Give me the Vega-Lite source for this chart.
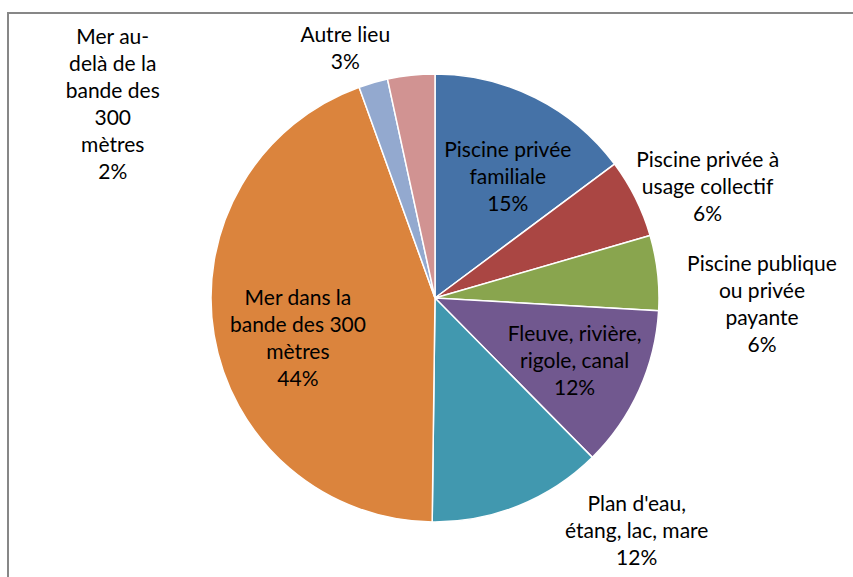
{
  "$schema": "https://vega.github.io/schema/vega-lite/v6.json",
  "width": 854,
  "height": 570,
  "autosize": {"type": "none"},
  "padding": {"left": 8, "top": 13, "right": 0, "bottom": 0},
  "background": "white",
  "view": {"stroke": "#878787", "strokeWidth": 2, "fill": "white"},
  "config": {"text": {"font": "Lato"}},
  "data": {"values": [
    {"idx": 1, "cat": "Piscine privée familiale", "value": 14.8, "label": "Piscine privée\nfamiliale\n15%"},
    {"idx": 2, "cat": "Piscine privée à usage collectif", "value": 5.7, "label": "Piscine privée à\nusage collectif\n6%"},
    {"idx": 3, "cat": "Piscine publique ou privée payante", "value": 5.4, "label": "Piscine publique\nou privée\npayante\n6%"},
    {"idx": 4, "cat": "Fleuve, rivière, rigole, canal", "value": 11.7, "label": "Fleuve, rivière,\nrigole, canal\n12%"},
    {"idx": 5, "cat": "Plan d'eau, étang, lac, mare", "value": 12.6, "label": "Plan d'eau,\nétang, lac, mare\n12%"},
    {"idx": 6, "cat": "Mer dans la bande des 300 mètres", "value": 44.3, "label": "Mer dans la\nbande des 300\nmètres\n44%"},
    {"idx": 7, "cat": "Mer au-delà de la bande des 300 mètres", "value": 2.1, "label": "Mer au-\ndelà de la\nbande des\n300\nmètres\n2%"},
    {"idx": 8, "cat": "Autre lieu", "value": 3.4, "label": "Autre lieu\n3%"}
  ]},
  "encoding": {
    "theta": {"field": "value", "type": "quantitative", "stack": true},
    "order": {"field": "idx", "type": "quantitative"},
    "detail": {"field": "cat", "type": "nominal"}
  },
  "layer": [
    {
      "mark": {"type": "arc", "outerRadius": 224, "stroke": "white", "strokeWidth": 1.5},
      "encoding": {
        "color": {"field": "cat", "type": "nominal", "legend": null,
          "scale": {
            "domain": ["Piscine privée familiale", "Piscine privée à usage collectif", "Piscine publique ou privée payante", "Fleuve, rivière, rigole, canal", "Plan d'eau, étang, lac, mare", "Mer dans la bande des 300 mètres", "Mer au-delà de la bande des 300 mètres", "Autre lieu"],
            "range": ["#4572A7", "#AA4643", "#89A54E", "#71588F", "#4198AF", "#DB843D", "#93A9CF", "#D19392"]
          }}
      }
    },
    {
      "mark": {"type": "text", "radius": 140, "dx": 10, "dy": -22, "fontSize": 21, "lineBreak": "\n", "lineHeight": 27, "align": "center", "baseline": "middle", "fill": "#000000"},
      "encoding": {"text": {"condition": {"test": "datum.idx === 1", "field": "label"}, "value": ""}}
    },
    {
      "mark": {"type": "text", "radius": 290, "dx": 13, "dy": -8, "fontSize": 21, "lineBreak": "\n", "lineHeight": 27, "align": "center", "baseline": "middle", "fill": "#000000"},
      "encoding": {"text": {"condition": {"test": "datum.idx === 2", "field": "label"}, "value": ""}}
    },
    {
      "mark": {"type": "text", "radius": 320, "dx": 9, "dy": 3.5, "fontSize": 21, "lineBreak": "\n", "lineHeight": 27, "align": "center", "baseline": "middle", "fill": "#000000"},
      "encoding": {"text": {"condition": {"test": "datum.idx === 3", "field": "label"}, "value": ""}}
    },
    {
      "mark": {"type": "text", "radius": 140, "dx": 12, "dy": -21, "fontSize": 21, "lineBreak": "\n", "lineHeight": 27, "align": "center", "baseline": "middle", "fill": "#000000"},
      "encoding": {"text": {"condition": {"test": "datum.idx === 4", "field": "label"}, "value": ""}}
    },
    {
      "mark": {"type": "text", "radius": 280, "dx": 97, "dy": -53, "fontSize": 21, "lineBreak": "\n", "lineHeight": 27, "align": "center", "baseline": "middle", "fill": "#000000"},
      "encoding": {"text": {"condition": {"test": "datum.idx === 5", "field": "label"}, "value": ""}}
    },
    {
      "mark": {"type": "text", "radius": 140, "dx": 1, "dy": -22.5, "fontSize": 21, "lineBreak": "\n", "lineHeight": 27, "align": "center", "baseline": "middle", "fill": "#000000"},
      "encoding": {"text": {"condition": {"test": "datum.idx === 6", "field": "label"}, "value": ""}}
    },
    {
      "mark": {"type": "text", "radius": 280, "dx": -245, "dy": 9.5, "fontSize": 21, "lineBreak": "\n", "lineHeight": 27, "align": "center", "baseline": "middle", "fill": "#000000"},
      "encoding": {"text": {"condition": {"test": "datum.idx === 7", "field": "label"}, "value": ""}}
    },
    {
      "mark": {"type": "text", "radius": 260, "dx": -62, "dy": -3.5, "fontSize": 21, "lineBreak": "\n", "lineHeight": 27, "align": "center", "baseline": "middle", "fill": "#000000"},
      "encoding": {"text": {"condition": {"test": "datum.idx === 8", "field": "label"}, "value": ""}}
    }
  ]
}
